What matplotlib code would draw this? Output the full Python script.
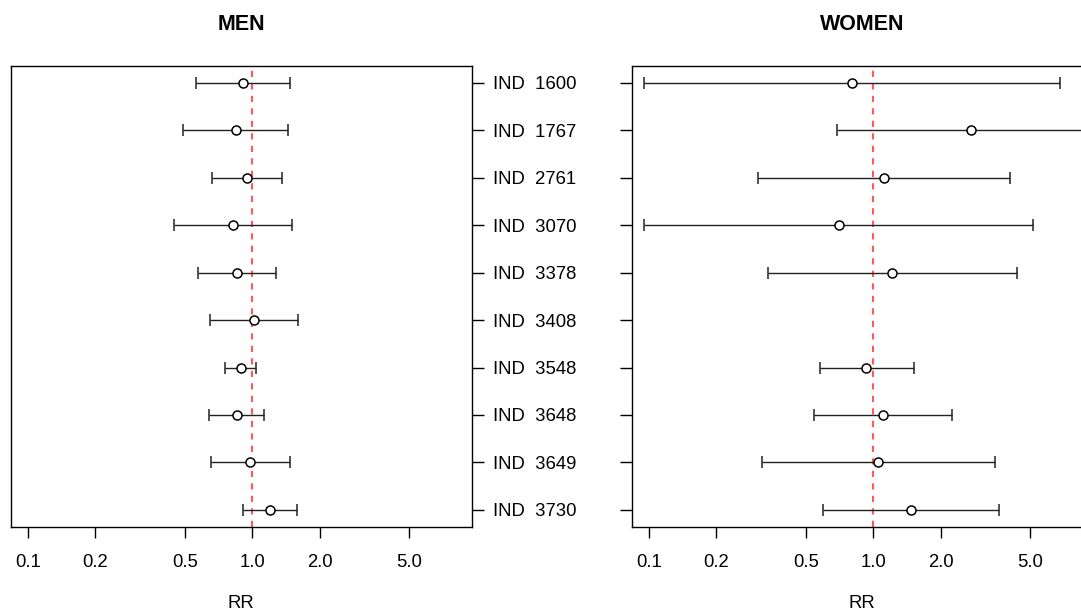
import numpy as np
import matplotlib
matplotlib.use("Agg")
import matplotlib.pyplot as plt

plt.rcParams['font.family'] = ['Liberation Sans', 'DejaVu Sans']

labels = ["IND  1600", "IND  1767", "IND  2761", "IND  3070", "IND  3378",
          "IND  3408", "IND  3548", "IND  3648", "IND  3649", "IND  3730"]

men_rr = [0.912, 0.846, 0.944, 0.818, 0.855, 1.018, 0.888, 0.852, 0.977, 1.203]
men_lo = [0.562, 0.493, 0.662, 0.450, 0.573, 0.650, 0.758, 0.644, 0.653, 0.912]
men_hi = [1.476, 1.446, 1.351, 1.497, 1.279, 1.597, 1.042, 1.127, 1.467, 1.581]

women_rr = [0.80, 2.71, 1.116, 0.703, 1.215, np.nan, 0.931, 1.10, 1.053, 1.472]
women_lo = [0.095, 0.689, 0.308, 0.0956, 0.341, np.nan, 0.578, 0.542, 0.319, 0.597]
women_hi = [6.75, 10.5, 4.05, 5.13, 4.34, np.nan, 1.513, 2.235, 3.49, 3.62]

xticks = [0.1, 0.2, 0.5, 1.0, 2.0, 5.0]

fig = plt.figure(figsize=(10.81, 6.11), dpi=100)
ax1 = fig.add_axes([0.0099, 0.1375, 0.4267, 0.755])
ax2 = fig.add_axes([0.5844, 0.1375, 0.4267, 0.755])

y = np.arange(1, len(labels) + 1)

def panel(ax, rr, lo, hi, title):
    rr = np.array(rr); lo = np.array(lo); hi = np.array(hi)
    ok = ~np.isnan(rr)
    ax.errorbar(rr[ok], y[ok], xerr=[rr[ok] - lo[ok], hi[ok] - rr[ok]],
                fmt='o', color='#222222', ecolor='#222222', elinewidth=1.0,
                capsize=4.6, capthick=1.0, markersize=6.5,
                markerfacecolor='white', markeredgecolor='black',
                markeredgewidth=1.1, zorder=3)
    ax.axvline(1.0, color='#ff5a5a', lw=1.5, linestyle=(0, (3, 3)), zorder=2)
    ax.set_xscale('log')
    ax.set_xlim(0.084, 9.5)
    ax.set_ylim(10.36, 0.64)
    ax.set_xticks(xticks)
    ax.set_xticklabels(["%.1f" % t for t in xticks])
    ax.minorticks_off()
    ax.tick_params(axis='x', length=8, width=1, pad=11.5, labelsize=13.3)
    ax.tick_params(axis='y', length=8.5, width=1, pad=7, labelsize=13.3)
    ax.set_yticks(y)
    ax.set_title(title, fontsize=15.5, fontweight='bold', pad=25.5)
    ax.set_xlabel("RR", fontsize=13.3, labelpad=17)
    for s in ax.spines.values():
        s.set_linewidth(1.0)

panel(ax1, men_rr, men_lo, men_hi, "MEN")
ax1.yaxis.tick_right()
ax1.set_yticklabels(labels)

panel(ax2, women_rr, women_lo, women_hi, "WOMEN")
ax2.set_yticklabels([])

fig.savefig("out.png", dpi=100)
